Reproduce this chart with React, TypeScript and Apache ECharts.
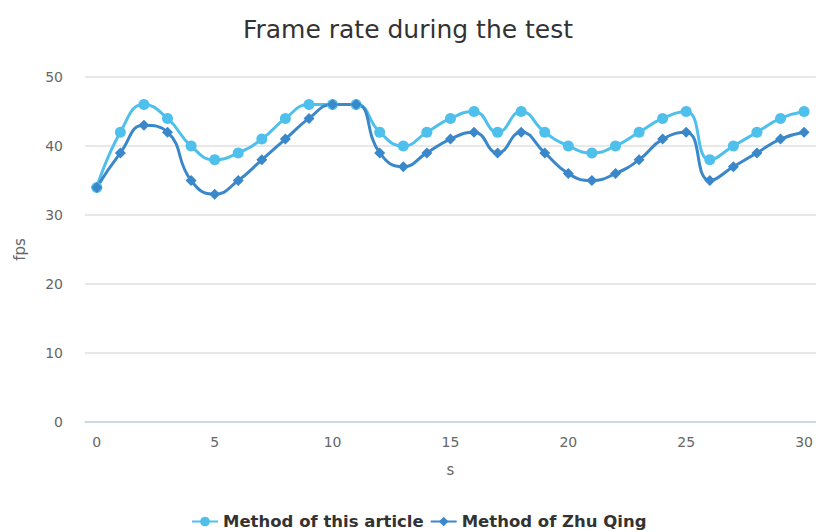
import React, { useEffect, useRef } from "react";
import * as echarts from "echarts";

const seconds: string[] = Array.from({ length: 31 }, (_, i) => String(i));
const articleFps = [34, 42, 46, 44, 40, 38, 39, 41, 44, 46, 46, 46, 42, 40, 42, 44, 45, 42, 45, 42, 40, 39, 40, 42, 44, 45, 38, 40, 42, 44, 45];
const zhuQingFps = [34, 39, 43, 42, 35, 33, 35, 38, 41, 44, 46, 46, 39, 37, 39, 41, 42, 39, 42, 39, 36, 35, 36, 38, 41, 42, 35, 37, 39, 41, 42];

const FONT = "DejaVu Sans";

export default function App() {
  const ref = useRef<HTMLDivElement>(null);
  useEffect(() => {
    if (!ref.current) return;
    const chart = echarts.init(ref.current, undefined, { renderer: "svg" });
    chart.setOption({
      animation: false,
      textStyle: { fontFamily: FONT },
      title: {
        text: "Frame rate during the test",
        left: "center",
        top: 12,
        textStyle: { fontFamily: FONT, fontSize: 25, fontWeight: "normal", color: "#333" },
      },
      legend: {
        bottom: -3,
        left: 186,
        itemWidth: 26,
        itemHeight: 12,
        itemGap: 6,
        textStyle: { fontFamily: FONT, fontSize: 16.5, fontWeight: "bold", color: "#333" },
        data: ["Method of this article", "Method of Zhu Qing"],
      },
      grid: { left: 85, right: 0, top: 77, bottom: 110 },
      xAxis: {
        type: "category",
        data: seconds,
        boundaryGap: true,
        name: "s",
        nameLocation: "middle",
        nameGap: 40,
        nameTextStyle: { fontFamily: FONT, fontSize: 15, color: "#666" },
        axisLine: { lineStyle: { color: "#c6d2e6", width: 1.5 } },
        axisTick: { show: false },
        axisLabel: { interval: 4, color: "#666", fontSize: 14, fontFamily: FONT, margin: 13 },
        splitLine: { show: false },
      },
      yAxis: {
        type: "value",
        min: 0,
        max: 50,
        interval: 10,
        name: "fps",
        nameLocation: "middle",
        nameGap: 58,
        nameTextStyle: { fontFamily: FONT, fontSize: 15, color: "#666" },
        axisLine: { show: false },
        axisTick: { show: false },
        axisLabel: { color: "#666", fontSize: 14, fontFamily: FONT, margin: 22 },
        splitLine: { lineStyle: { color: "#e0e0e0", width: 1.5 } },
      },
      series: [
        {
          name: "Method of this article",
          type: "line",
          data: articleFps,
          smooth: true,
          symbol: "circle",
          symbolSize: 11,
          itemStyle: { color: "#4fc0ec" },
          lineStyle: { width: 3, color: "#4fc0ec" },
        },
        {
          name: "Method of Zhu Qing",
          type: "line",
          data: zhuQingFps,
          smooth: true,
          symbol: "diamond",
          symbolSize: 11,
          itemStyle: { color: "#3a88c9" },
          lineStyle: { width: 3, color: "#3a88c9" },
        },
      ],
    });
    return () => chart.dispose();
  }, []);
  return (
    <div
      ref={ref}
      style={{ position: "fixed", left: 0, top: 0, width: 816, height: 532, background: "#fff" }}
    />
  );
}
